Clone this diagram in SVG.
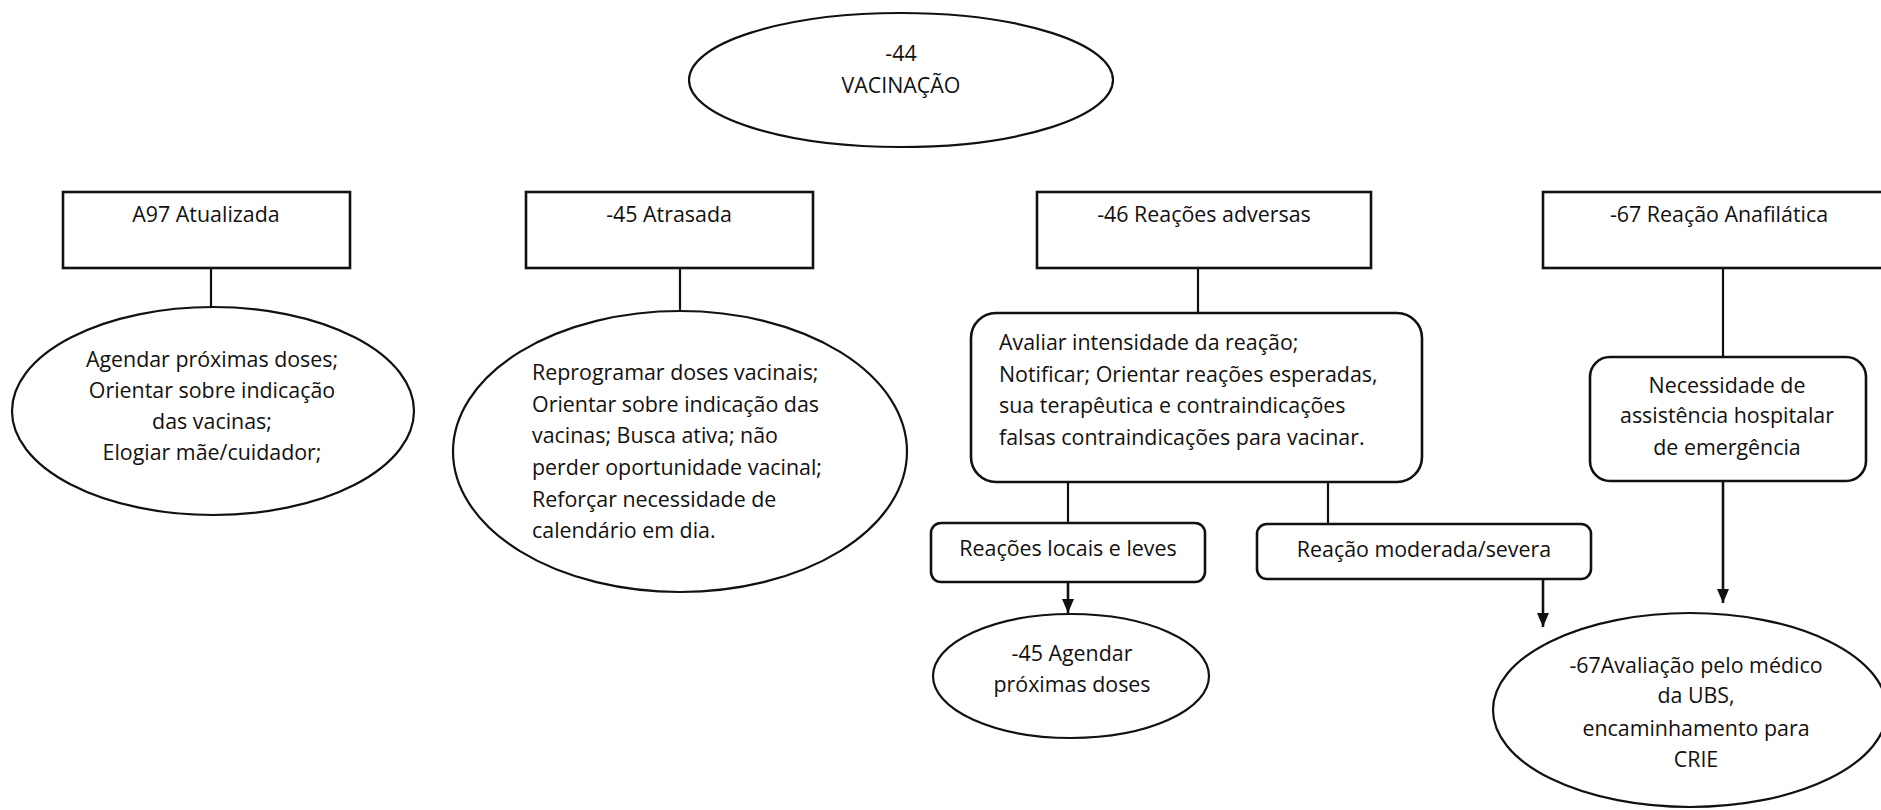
<svg xmlns="http://www.w3.org/2000/svg" width="1881" height="810" viewBox="0 0 1881 810">
  <defs>
    <style>
      .shape { fill: #fff; stroke: #111; stroke-width: 2.2; }
      .box { fill: #fff; stroke: #111; stroke-width: 2.6; }
      .line { fill: none; stroke: #111; stroke-width: 2.2; }
      .arrow { fill: none; stroke: #111; stroke-width: 2.6; marker-end: url(#head); }
      text { font-family: "Open Sans", "Noto Sans", "DejaVu Sans", sans-serif; font-size: 21.4px; fill: #111; }
      .c { text-anchor: middle; }
    </style>
    <marker id="head" viewBox="0 0 14 12" refX="14" refY="6" markerWidth="14" markerHeight="12" markerUnits="userSpaceOnUse" orient="auto">
      <path d="M0,0 L14,6 L0,12 Z" fill="#111"/>
    </marker>
  </defs>
  <rect width="1881" height="810" fill="#fff"/>

  <!-- connectors -->
  <g id="connectors">
    <line class="line" x1="211" y1="268" x2="211" y2="307"/>
    <line class="line" x1="680" y1="268" x2="680" y2="311"/>
    <line class="line" x1="1198" y1="268" x2="1198" y2="313"/>
    <line class="line" x1="1723" y1="268" x2="1723" y2="357"/>
    <line class="line" x1="1068" y1="482" x2="1068" y2="523"/>
    <line class="line" x1="1328" y1="482" x2="1328" y2="524"/>
    <line class="arrow" x1="1068" y1="582" x2="1068" y2="613"/>
    <line class="arrow" x1="1543" y1="579" x2="1543" y2="627"/>
    <line class="arrow" x1="1723" y1="481" x2="1723" y2="603"/>
  </g>

  <g id="vacinacao">
    <ellipse class="shape" cx="901" cy="80" rx="212" ry="67"/>
    <text class="c" x="901" y="61">-44</text>
    <text class="c" x="901" y="93">VACINAÇÃO</text>
  </g>

  <g id="atualizada">
    <rect class="box" x="63" y="192" width="287" height="76"/>
    <text class="c" x="206" y="222">A97 Atualizada</text>
  </g>

  <g id="atrasada">
    <rect class="box" x="526" y="192" width="287" height="76"/>
    <text class="c" x="669" y="222">-45 Atrasada</text>
  </g>

  <g id="reacoes-adversas">
    <rect class="box" x="1037" y="192" width="334" height="76"/>
    <text class="c" x="1204" y="222">-46 Reações adversas</text>
  </g>

  <g id="reacao-anafilatica">
    <rect class="box" x="1543" y="192" width="352" height="76"/>
    <text class="c" x="1719" y="222">-67 Reação Anafilática</text>
  </g>

  <g id="acoes-atualizada">
    <ellipse class="shape" cx="213" cy="411" rx="201" ry="104"/>
    <text class="c" x="212" y="367">Agendar próximas doses;</text>
    <text class="c" x="212" y="398">Orientar sobre indicação</text>
    <text class="c" x="212" y="429">das vacinas;</text>
    <text class="c" x="212" y="460">Elogiar mãe/cuidador;</text>
  </g>

  <g id="acoes-atrasada">
    <ellipse class="shape" cx="680" cy="451.5" rx="227" ry="140.5"/>
    <text x="532" y="380">Reprogramar doses vacinais;</text>
    <text x="532" y="412">Orientar sobre indicação das</text>
    <text x="532" y="443">vacinas; Busca ativa; não</text>
    <text x="532" y="475">perder oportunidade vacinal;</text>
    <text x="532" y="507">Reforçar necessidade de</text>
    <text x="532" y="538">calendário em dia.</text>
  </g>

  <g id="acoes-adversas">
    <rect class="box" x="971" y="313" width="451" height="169" rx="25" ry="25"/>
    <text x="999" y="350">Avaliar intensidade da reação;</text>
    <text x="999" y="382">Notificar; Orientar reações esperadas,</text>
    <text x="999" y="413">sua terapêutica e contraindicações</text>
    <text x="999" y="445">falsas contraindicações para vacinar.</text>
  </g>

  <g id="necessidade-hospitalar">
    <rect class="box" x="1590" y="357" width="276" height="124" rx="20" ry="20"/>
    <text class="c" x="1727" y="393">Necessidade de</text>
    <text class="c" x="1727" y="423">assistência hospitalar</text>
    <text class="c" x="1727" y="455">de emergência</text>
  </g>

  <g id="reacoes-locais">
    <rect class="box" x="931" y="523" width="274" height="59" rx="10" ry="10"/>
    <text class="c" x="1068" y="556">Reações locais e leves</text>
  </g>

  <g id="reacao-moderada">
    <rect class="box" x="1257" y="524" width="334" height="55" rx="10" ry="10"/>
    <text class="c" x="1424" y="557">Reação moderada/severa</text>
  </g>

  <g id="agendar-doses">
    <ellipse class="shape" cx="1071" cy="676" rx="138" ry="62"/>
    <text class="c" x="1072" y="661">-45 Agendar</text>
    <text class="c" x="1072" y="692">próximas doses</text>
  </g>

  <g id="avaliacao-medico">
    <ellipse class="shape" cx="1690" cy="710" rx="197" ry="97"/>
    <text class="c" x="1696" y="673">-67Avaliação pelo médico</text>
    <text class="c" x="1696" y="703">da UBS,</text>
    <text class="c" x="1696" y="736">encaminhamento para</text>
    <text class="c" x="1696" y="767">CRIE</text>
  </g>
</svg>
